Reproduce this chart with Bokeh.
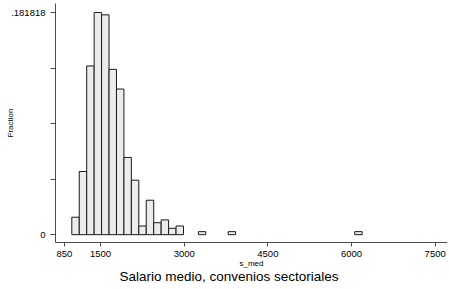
from bokeh.plotting import figure
from bokeh.models import FixedTicker, Title, ColumnDataSource, Range1d
from bokeh.embed import file_html
from bokeh.resources import INLINE

# Histogram of s_med (fraction per bin)
bin_start = 984.5
bin_width = 133.5
fractions = [0.0143, 0.0517, 0.1381, 0.181818, 0.1799, 0.1353, 0.1192, 0.0632,
             0.0446, 0.0071, 0.0282, 0.0098, 0.0121, 0.0052, 0.0071,
             0.0, 0.0, 0.0025, 0.0, 0.0, 0.0, 0.0025,
             0.0, 0.0, 0.0, 0.0, 0.0, 0.0, 0.0, 0.0,
             0.0, 0.0, 0.0, 0.0, 0.0, 0.0, 0.0, 0.0, 0.0025]

x_ticks = [850, 1500, 3000, 4500, 6000, 7500]
y_ticks = [0.0, 0.0454545, 0.0909091, 0.1363636, 0.181818]
y_tick_labels = ["0", "", "", "", ".181818"]

FONT = "Liberation Sans"

lefts, rights, tops = [], [], []
for i, f in enumerate(fractions):
    if f > 0:
        lefts.append(bin_start + i * bin_width)
        rights.append(bin_start + (i + 1) * bin_width)
        tops.append(f)
src = ColumnDataSource(dict(left=lefts, right=rights, top=tops, bottom=[0.0] * len(tops)))

p = figure(width=449, height=289, output_backend="svg", toolbar_location=None,
           x_range=Range1d(692, 7721), y_range=Range1d(-0.0064, 0.1892),
           min_border_left=57, min_border_right=0, min_border_top=5, min_border_bottom=45)
p.styles = {"margin-left": "-2.5px", "margin-top": "-2.5px", "margin-bottom": "-8px"}
p.outline_line_color = None
p.background_fill_color = "white"
p.border_fill_color = "white"
p.xgrid.visible = False
p.ygrid.visible = False

p.quad(left="left", right="right", top="top", bottom="bottom", source=src,
       fill_color="#ececec", line_color="#1a1a1a", line_width=1)

axis_color = "#4d4d4d"
xa = p.xaxis[0]
xa.ticker = FixedTicker(ticks=x_ticks)
xa.axis_line_color = axis_color
xa.major_tick_line_color = axis_color
xa.major_tick_in = 0
xa.major_tick_out = 4
xa.minor_tick_line_color = None
xa.major_label_standoff = 4
xa.major_label_text_font = FONT
xa.major_label_text_font_size = "9.5px"
xa.major_label_text_line_height = 1.0
xa.major_label_text_color = "black"
xa.axis_label = "s_med"
xa.axis_label_text_font = FONT
xa.axis_label_text_font_size = "8px"
xa.axis_label_text_line_height = 1.0
xa.axis_label_text_font_style = "normal"
xa.axis_label_text_color = "black"
xa.axis_label_standoff = -1

ya = p.yaxis[0]
ya.ticker = FixedTicker(ticks=y_ticks)
ya.major_label_overrides = {t: l for t, l in zip(y_ticks, y_tick_labels)}
ya.axis_line_color = axis_color
ya.major_tick_line_color = axis_color
ya.major_tick_in = 0
ya.major_tick_out = 5
ya.minor_tick_line_color = None
ya.major_label_standoff = 5
ya.major_label_orientation = "horizontal"
ya.major_label_text_font = FONT
ya.major_label_text_font_size = "9.5px"
ya.major_label_text_color = "black"
ya.axis_label = "Fraction"
ya.axis_label_text_font = FONT
ya.axis_label_text_font_size = "8px"
ya.axis_label_text_line_height = 1.0
ya.axis_label_text_font_style = "normal"
ya.axis_label_text_color = "black"
ya.axis_label_standoff = -7

t = Title(text="Salario medio, convenios sectoriales", align="left", offset=64,
          text_font=FONT, text_font_size="13.5px", text_font_style="normal",
          text_line_height=1.0, text_color="black", standoff=-7)
p.add_layout(t, "below")

open("out.html", "w").write(file_html(p, INLINE))
